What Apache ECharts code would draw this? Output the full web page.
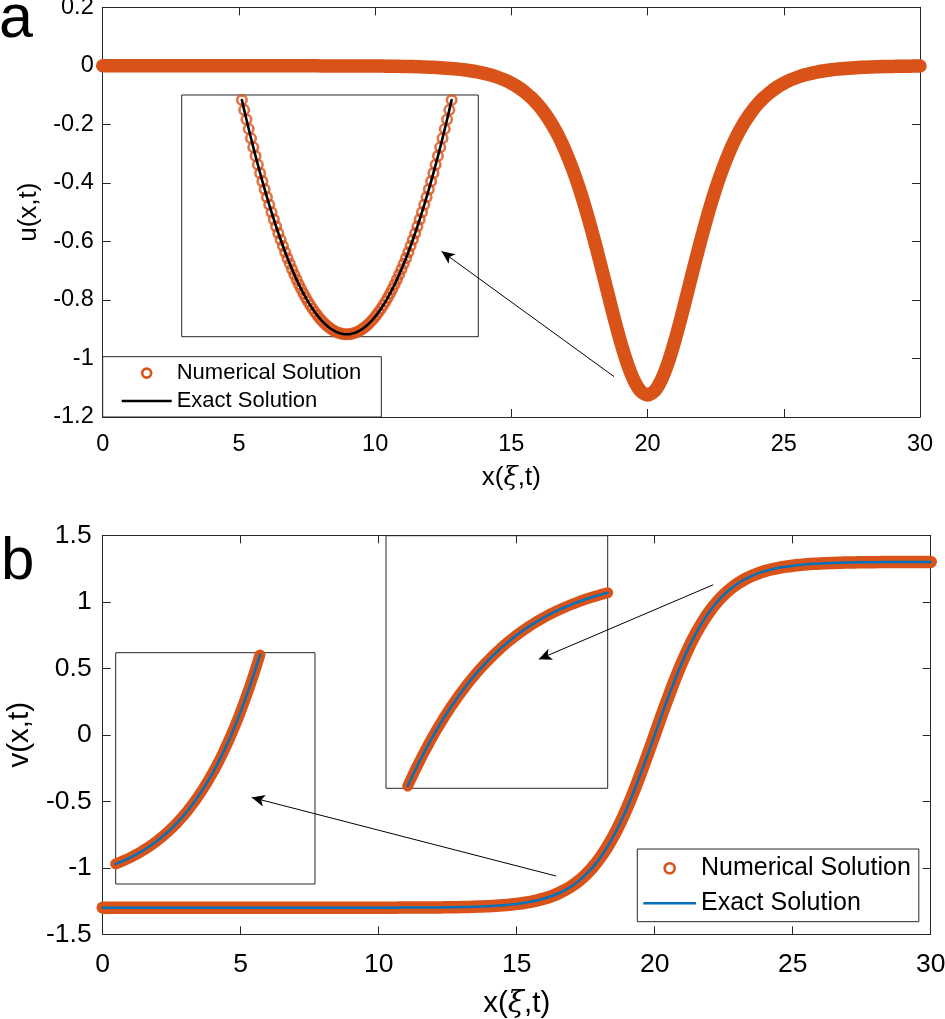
<!DOCTYPE html>
<html><head><meta charset="utf-8">
<script src="https://cdn.jsdelivr.net/npm/echarts/dist/echarts.min.js"></script>
<style>html,body{margin:0;padding:0;background:#fff}#c{width:945px;height:1019px}</style>
</head><body><div id="c"></div>
<script>
// ---------- data ----------
const xGrid = [0,0.25,0.5,0.75,1,1.25,1.5,1.75,2,2.25,2.5,2.75,3,3.25,3.5,3.75,4,4.25,4.5,4.75,5,5.25,5.5,5.75,6,6.25,6.5,6.75,7,7.25,7.5,7.75,8,8.25,8.5,8.75,9,9.25,9.5,9.75,10,10.25,10.5,10.75,11,11.25,11.5,11.75,12,12.25,12.5,12.75,13,13.25,13.5,13.75,14,14.25,14.5,14.75,15,15.25,15.5,15.75,16,16.25,16.5,16.75,17,17.25,17.5,17.75,18,18.25,18.5,18.75,19,19.25,19.5,19.75,20,20.25,20.5,20.75,21,21.25,21.5,21.75,22,22.25,22.5,22.75,23,23.25,23.5,23.75,24,24.25,24.5,24.75,25,25.25,25.5,25.75,26,26.25,26.5,26.75,27,27.25,27.5,27.75,28,28.25,28.5,28.75,29,29.25,29.5,29.75,30];

const uNumerical = [0,0,0,0,0,0,0,0,0,0,0,0,0,0,0,0,0,0,0,0,0,0,0,0,0,0,0,0,0,0,0,0,
 -0.0002,-0.0002,-0.0002,-0.0003,-0.0004,-0.0004,-0.0005,-0.0007,
 -0.0008,-0.0010,-0.0013,-0.0016,-0.0020,-0.0024,-0.0030,-0.0037,-0.0046,-0.0057,
 -0.0071,-0.0088,-0.0109,-0.0135,-0.0167,-0.0207,-0.0256,-0.0316,-0.0390,-0.0482,
 -0.0594,-0.0732,-0.0901,-0.1106,-0.1355,-0.1655,-0.2014,-0.2442,-0.2946,-0.3533,
 -0.4205,-0.4962,-0.5796,-0.6690,-0.7616,-0.8537,-0.9402,-1.0157,-1.0746,-1.1121,
 -1.1250,
 -1.1121,-1.0746,-1.0157,-0.9402,-0.8537,-0.7616,-0.6690,-0.5796,-0.4962,-0.4205,
 -0.3533,-0.2946,-0.2442,-0.2014,-0.1655,-0.1355,-0.1106,-0.0901,-0.0732,-0.0594,
 -0.0482,-0.0390,-0.0316,-0.0256,-0.0207,-0.0167,-0.0135,-0.0109,-0.0088,-0.0071,
 -0.0057,-0.0046,-0.0037,-0.0030,-0.0024,-0.0020,-0.0016,-0.0013,-0.0010,-0.0008];

const vValues = [-1.3,-1.3,-1.3,-1.3,-1.3,-1.3,-1.3,-1.3,-1.3,-1.3,-1.3,-1.3,-1.3,-1.3,-1.3,-1.3,-1.3,-1.3,-1.3,-1.3,-1.3,-1.3,-1.3,-1.3,-1.3,-1.3,-1.3,-1.3,-1.3,-1.3,-1.3,-1.3,
 -1.2999,-1.2999,-1.2999,-1.2999,-1.2998,-1.2998,-1.2998,-1.2997,
 -1.2997,-1.2996,-1.2995,-1.2994,-1.2992,-1.2990,-1.2988,-1.2985,-1.2981,-1.2976,
 -1.2970,-1.2962,-1.2952,-1.2940,-1.2925,-1.2906,-1.2883,-1.2854,-1.2817,-1.2771,
 -1.2714,-1.2643,-1.2555,-1.2445,-1.2309,-1.2140,-1.1932,-1.1676,-1.1363,-1.0982,
 -1.0521,-0.9968,-0.9312,-0.8541,-0.7648,-0.6628,-0.5485,-0.4228,-0.2877,-0.1456,
 0,
 0.1456,0.2877,0.4228,0.5485,0.6628,0.7648,0.8541,0.9312,0.9968,1.0521,
 1.0982,1.1363,1.1676,1.1932,1.2140,1.2309,1.2445,1.2555,1.2643,1.2714,
 1.2771,1.2817,1.2854,1.2883,1.2906,1.2925,1.2940,1.2952,1.2962,1.2970,
 1.2976,1.2981,1.2985,1.2988,1.2990,1.2992,1.2994,1.2995,1.2996,1.2997];

// inset (a): close-up of the minimum of u
const insetAX = [19.54,19.55,19.56,19.57,19.58,19.59,19.6,19.61,19.62,19.63,19.64,19.65,19.66,19.67,19.68,19.69,19.7,19.71,19.72,19.73,19.74,19.75,19.76,19.77,19.78,19.79,19.8,19.81,19.82,19.83,19.84,19.85,19.86,19.87,19.88,19.89,19.9,19.91,19.92,19.93,19.94,19.95,19.96,19.97,19.98,19.99,20,20.01,20.02,20.03,20.04,20.05,20.06,20.07,20.08,20.09,20.1,20.11,20.12,20.13,20.14,20.15,20.16,20.17,20.18,20.19,20.2,20.21,20.22,20.23,20.24,20.25,20.26,20.27,20.28,20.29,20.3,20.31,20.32,20.33,20.34,20.35,20.36,20.37,20.38,20.39,20.4,20.41,20.42,20.43,20.44,20.45,20.46];
const insetAU = [-1.08213,-1.08393,-1.08569,-1.08742,-1.08911,-1.09076,-1.09238,-1.09396,-1.09550,-1.09701,-1.09847,-1.09990,-1.10130,-1.10265,-1.10397,-1.10525,-1.10649,-1.10769,-1.10885,-1.10997,-1.11106,-1.11210,-1.11310,-1.11407,-1.11499,-1.11588,-1.11672,-1.11752,-1.11829,-1.11901,-1.11969,-1.12033,-1.12093,-1.12149,-1.12201,-1.12249,-1.12292,-1.12332,-1.12367,-1.12398,-1.12425,-1.12448,-1.12467,-1.12481,-1.12492,-1.12498,
 -1.12500,
 -1.12498,-1.12492,-1.12481,-1.12467,-1.12448,-1.12425,-1.12398,-1.12367,-1.12332,-1.12292,-1.12249,-1.12201,-1.12149,-1.12093,-1.12033,-1.11969,-1.11901,-1.11829,-1.11752,-1.11672,-1.11588,-1.11499,-1.11407,-1.11310,-1.11210,-1.11106,-1.10997,-1.10885,-1.10769,-1.10649,-1.10525,-1.10397,-1.10265,-1.10130,-1.09990,-1.09847,-1.09701,-1.09550,-1.09396,-1.09238,-1.09076,-1.08911,-1.08742,-1.08569,-1.08393,-1.08213];

// insets (b): lower knee and upper knee of v
const insetBLX = [15.6,15.7,15.8,15.9,16,16.1,16.2,16.3,16.4,16.5,16.6,16.7,16.8,16.9,17,17.1,17.2,17.3,17.4,17.5,17.6,17.7,17.8,17.9,18,18.1,18.2,18.3,18.4];
const insetBLV = [-1.2514,-1.2469,-1.2420,-1.2367,-1.2309,-1.2245,-1.2176,-1.2102,-1.2020,-1.1932,-1.1836,-1.1731,-1.1618,-1.1496,-1.1363,-1.1219,-1.1064,-1.0896,-1.0716,-1.0521,-1.0312,-1.0087,-0.9846,-0.9588,-0.9312,-0.9018,-0.8705,-0.8372,-0.8020];
const insetBRX = [21.6,21.7,21.8,21.9,22,22.1,22.2,22.3,22.4,22.5,22.6,22.7,22.8,22.9,23,23.1,23.2,23.3,23.4,23.5,23.6,23.7,23.8,23.9,24,24.1,24.2,24.3,24.4];
const insetBRV = [0.8020,0.8372,0.8705,0.9018,0.9312,0.9588,0.9846,1.0087,1.0312,1.0521,1.0716,1.0896,1.1064,1.1219,1.1363,1.1496,1.1618,1.1731,1.1836,1.1932,1.2020,1.2102,1.2176,1.2245,1.2309,1.2367,1.2420,1.2469,1.2514];

// ticks
const xTicks = [0, 5, 10, 15, 20, 25, 30];
const uTicks = [-1.2, -1, -0.8, -0.6, -0.4, -0.2, 0, 0.2];
const vTicks = [-1.5, -1, -0.5, 0, 0.5, 1, 1.5];

// arrows (annotation, in data coordinates: [from, to])
const arrowA = [[18.77, -1.062], [12.44, -0.634]];
const arrowB1 = [[16.43, -1.062], [5.40, -0.471]];
const arrowB2 = [[22.12, 1.128], [15.80, 0.568]];

const seriesNames = ['Numerical Solution', 'Exact Solution'];

// ---------- chart ----------
const ORANGE = '#D95319', BLUE = '#0072BD', AX = '#262626';
const FONT = '"Liberation Sans", Arial, Helvetica, sans-serif';
const pairs = (xs, ys) => xs.map((x, i) => [x, ys[i]]);

function frameAxes(gridIndex, ticks, fs, name, nameGap, labelMargin, isX, nameFs) {
  const step = ticks[1] - ticks[0];
  const base = {
    type: 'value', gridIndex,
    min: ticks[0], max: ticks[ticks.length - 1], interval: step,
    axisLine: { show: true, onZero: false, lineStyle: { color: AX, width: 1 } },
    axisTick: { show: true, inside: true, length: 8, lineStyle: { color: AX, width: 1 } },
    splitLine: { show: false }
  };
  const main = Object.assign({}, base, {
    position: isX ? 'bottom' : 'left',
    axisLabel: { show: true, fontSize: fs, fontFamily: FONT, color: '#000', margin: labelMargin,
      formatter: v => String(+v.toFixed(2)) },
    name: name, nameLocation: 'middle', nameGap: nameGap,
    nameTextStyle: { fontSize: nameFs, fontFamily: FONT, color: '#000',
      rich: { xi: { fontStyle: 'italic', fontSize: nameFs, fontFamily: 'DejaVu Serif, serif', color: '#000' } } }
  });
  const mirror = Object.assign({}, base, {
    position: isX ? 'top' : 'right', axisLabel: { show: false }
  });
  return [main, mirror];
}
function hiddenAxis(gridIndex, min, max) {
  return { type: 'value', gridIndex, min, max, show: false, splitLine: { show: false } };
}

const xAxes = [
  ...frameAxes(0, xTicks, 23.5, 'x({xi|ξ},t)', 48, 16, true, 26),
  hiddenAxis(1, 19.276, 20.577),
  ...frameAxes(2, xTicks, 26.5, 'x({xi|ξ},t)', 55, 17, true, 29.5),
  hiddenAxis(3, 15.6, 19.47),
  hiddenAxis(4, 21.296, 24.4)
];
const yAxes = [
  ...frameAxes(0, uTicks, 23.5, 'u(x,t)', 56, 9, false, 26),
  hiddenAxis(1, -1.12544, -1.0812),
  ...frameAxes(2, vTicks, 26.5, 'v(x,t)', 63, 11, false, 29.5),
  hiddenAxis(3, -1.2945, -0.797),
  hiddenAxis(4, 0.7966, 1.384)
];

const arrowLine = (pts) => [{ coord: pts[0] }, { coord: pts[1] }];
const markArrows = (list) => ({
  silent: true, animation: false, symbol: ['none', 'arrow'], symbolSize: [9, 13],
  lineStyle: { color: '#000', width: 1, type: 'solid' }, label: { show: false },
  emphasis: { disabled: true }, data: list.map(arrowLine)
});

const thick = (name, xi, yi, data, color, width, z, extra) => Object.assign({
  name, type: 'line', xAxisIndex: xi, yAxisIndex: yi, data, symbol: 'none', clip: false,
  lineStyle: { color, width, cap: 'round', join: 'round' }, itemStyle: { color },
  emphasis: { disabled: true }, z, animation: false
}, extra || {});

const series = [
  thick(seriesNames[0], 0, 0, pairs(xGrid, uNumerical), ORANGE, 13.5, 2,
    { smooth: 0.2, markLine: markArrows([arrowA]) }),
  { name: seriesNames[0], type: 'scatter', xAxisIndex: 2, yAxisIndex: 2, data: pairs(insetAX, insetAU),
    symbol: 'circle', symbolSize: 9.5, clip: false, z: 3, animation: false, emphasis: { disabled: true },
    itemStyle: { color: 'rgba(0,0,0,0)', borderColor: ORANGE, borderWidth: 2.6 } },
  thick(seriesNames[1], 2, 2, pairs(insetAX, insetAU), '#000', 2.6, 4),
  thick(seriesNames[0], 3, 3, pairs(xGrid, vValues), ORANGE, 12.5, 2,
    { smooth: 0.2, markLine: markArrows([arrowB1, arrowB2]) }),
  thick(seriesNames[1], 3, 3, pairs(xGrid, vValues), BLUE, 2.5, 3, { smooth: 0.2 }),
  thick(seriesNames[0], 5, 5, pairs(insetBLX, insetBLV), ORANGE, 11, 3),
  thick(seriesNames[1], 5, 5, pairs(insetBLX, insetBLV), BLUE, 2.5, 4),
  thick(seriesNames[0], 6, 6, pairs(insetBRX, insetBRV), ORANGE, 11, 3),
  thick(seriesNames[1], 6, 6, pairs(insetBRX, insetBRV), BLUE, 2.5, 4)
];

const legendBase = (left, top, padding, itemWidth, itemHeight, itemGap, fs, lh, lineColor) => ({
  orient: 'vertical', left, top, padding, itemWidth, itemHeight, itemGap,
  selectedMode: false, borderColor: AX, borderWidth: 1, backgroundColor: '#fff', borderRadius: 0,
  textStyle: { fontSize: fs, lineHeight: lh, fontFamily: FONT, color: '#000' },
  data: [
    { name: seriesNames[0], icon: 'circle',
      itemStyle: { color: 'rgba(0,0,0,0)', borderColor: ORANGE, borderWidth: 2.6 } },
    { name: seriesNames[1], icon: 'path://M0 0H50V2.5H0Z',
      itemStyle: { color: lineColor, borderWidth: 0 } }
  ]
});

const option = {
  animation: false,
  backgroundColor: '#fff',
  grid: [
    { left: 102.7, top: 7.3, width: 817.3, height: 409.7, outerBoundsMode: 'none', containLabel: false },
    { left: 181.7, top: 95, width: 296.6, height: 241.7, show: true, borderColor: AX, borderWidth: 1, backgroundColor: '#fff', outerBoundsMode: 'none' },
    { left: 102.7, top: 535.3, width: 828, height: 399, outerBoundsMode: 'none', containLabel: false },
    { left: 115.7, top: 652.7, width: 199.3, height: 231.3, show: true, borderColor: AX, borderWidth: 1, backgroundColor: '#fff', outerBoundsMode: 'none' },
    { left: 386, top: 535.7, width: 221.7, height: 252.6, show: true, borderColor: AX, borderWidth: 1, backgroundColor: '#fff', outerBoundsMode: 'none' }
  ],
  xAxis: xAxes,
  yAxis: yAxes,
  legend: [
    legendBase(102.7, 356.7, [3.4, 20, 2.9, 19], 50, 9, 2, 22, 26, '#000'),
    legendBase(637.3, 849, [3.3, 8, 2.4, 6], 52.7, 10, 3, 25, 32, BLUE)
  ],
  graphic: [
    { type: 'text', x: -1, y: 20, style: { text: 'a', fontSize: 61, fontFamily: FONT, fill: '#000', verticalAlign: 'middle', textVerticalAlign: 'middle' } },
    { type: 'text', x: 1, y: 562, style: { text: 'b', fontSize: 60, fontFamily: FONT, fill: '#000', verticalAlign: 'middle', textVerticalAlign: 'middle' } }
  ],
  series
};

const chart = echarts.init(document.getElementById('c'), null, { renderer: 'canvas' });
chart.setOption(option);
</script>
</body></html>
